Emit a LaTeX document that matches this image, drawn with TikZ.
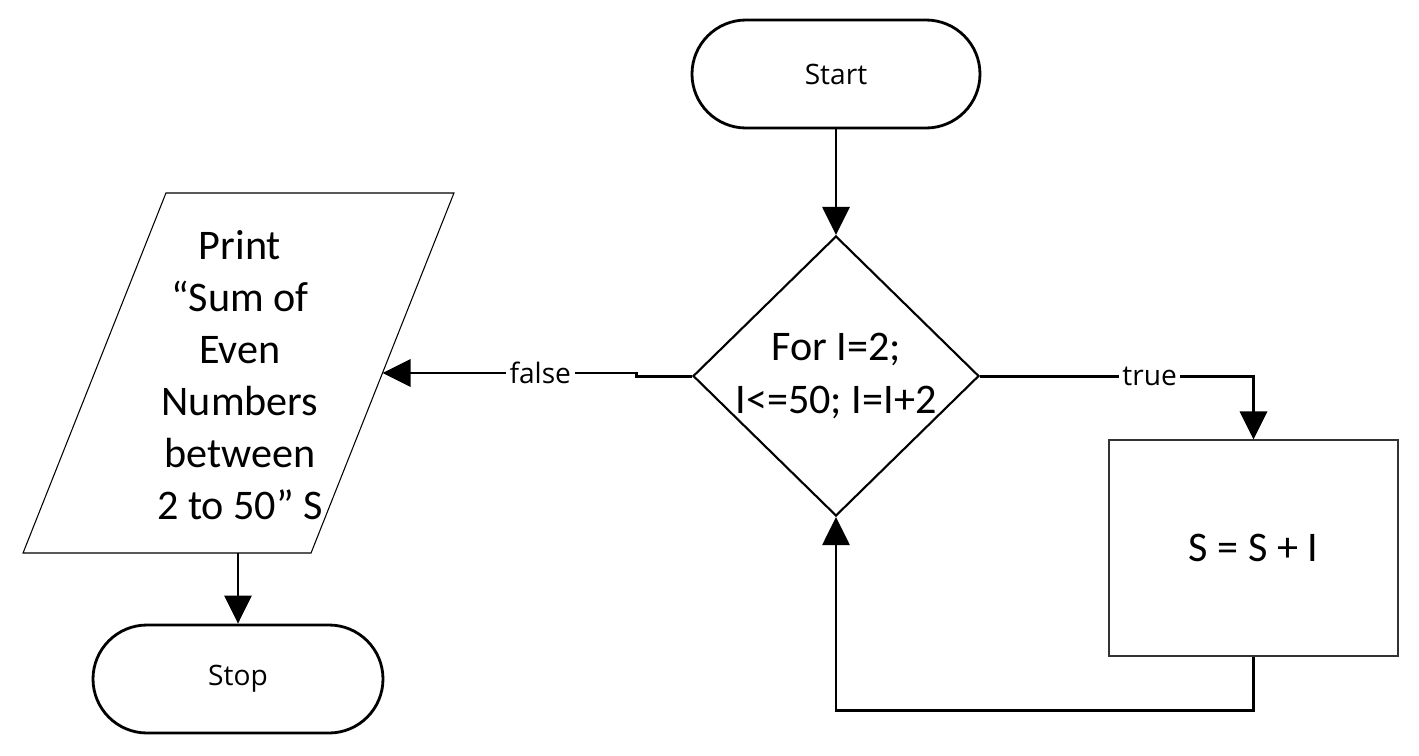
\documentclass[tikz,border=0pt]{standalone}
\usepackage{fontspec}
\setmainfont{Carlito}
\newfontfamily\labelfont{Open Sans}
\usetikzlibrary{arrows.meta,shapes.geometric}

\begin{document}
\begin{tikzpicture}[
  terminal/.style={draw,line width=0.8pt,rounded corners=0.54cm,minimum width=2.88cm,minimum height=1.08cm,font=\labelfont\fontsize{8}{10}\selectfont},
  decision/.style={draw,diamond,line width=0.6pt,minimum width=2.86cm,minimum height=2.8cm,inner sep=0pt},
  iobox/.style={draw,line width=0.3pt,xslant=0.397,transform shape,minimum width=2.88cm,minimum height=3.6cm,outer sep=0pt},
  process/.style={draw=black!80,line width=0.3pt,minimum width=2.89cm,minimum height=2.16cm,font=\fontsize{12}{14.8}\selectfont},
  bigtext/.style={align=center,font=\fontsize{12}{14.8}\selectfont},
  flow/.style={line width=0.85pt,-{Triangle[length=0.28cm,width=0.27cm]}},
  branch/.style={fill=white,inner sep=1pt,font=\labelfont\fontsize{8}{10}\selectfont}
]
\useasboundingbox (0,0) rectangle (14.19,7.55);

% Start and stop
\node[terminal] (start) at (8.36,6.81) {Start};
\node[terminal,minimum width=2.9cm] (stop) at (2.38,0.76) {Stop};

% Loop condition
\node[decision] (loop) at (8.36,3.79) {};
\node[bigtext] (looptext) at (loop) {For I=2;\\I<=50; I=I+2};

% Output
\node[iobox] (print) at (2.385,3.82) {};
\node[bigtext] (printtext) at (2.4,3.80) {Print\\“Sum of\\Even\\Numbers\\between\\2 to 50” S};

% Loop body
\node[process] (sum) at (12.535,2.07) {S = S + I};

% Connectors
\draw[flow] (start.south) -- (loop.north);
\draw[flow] (loop.east) -| node[branch,pos=0.31] {true} (sum.north);
\draw[flow] (loop.west) -- ++(-0.55,0) |- node[branch,pos=0.69] {false} (print.east);
\draw[flow] (sum.south) -- ++(0,-0.54) -| (loop.south);
\draw[flow] (stop.north |- print.south) -- (stop.north);
\end{tikzpicture}
\end{document}
